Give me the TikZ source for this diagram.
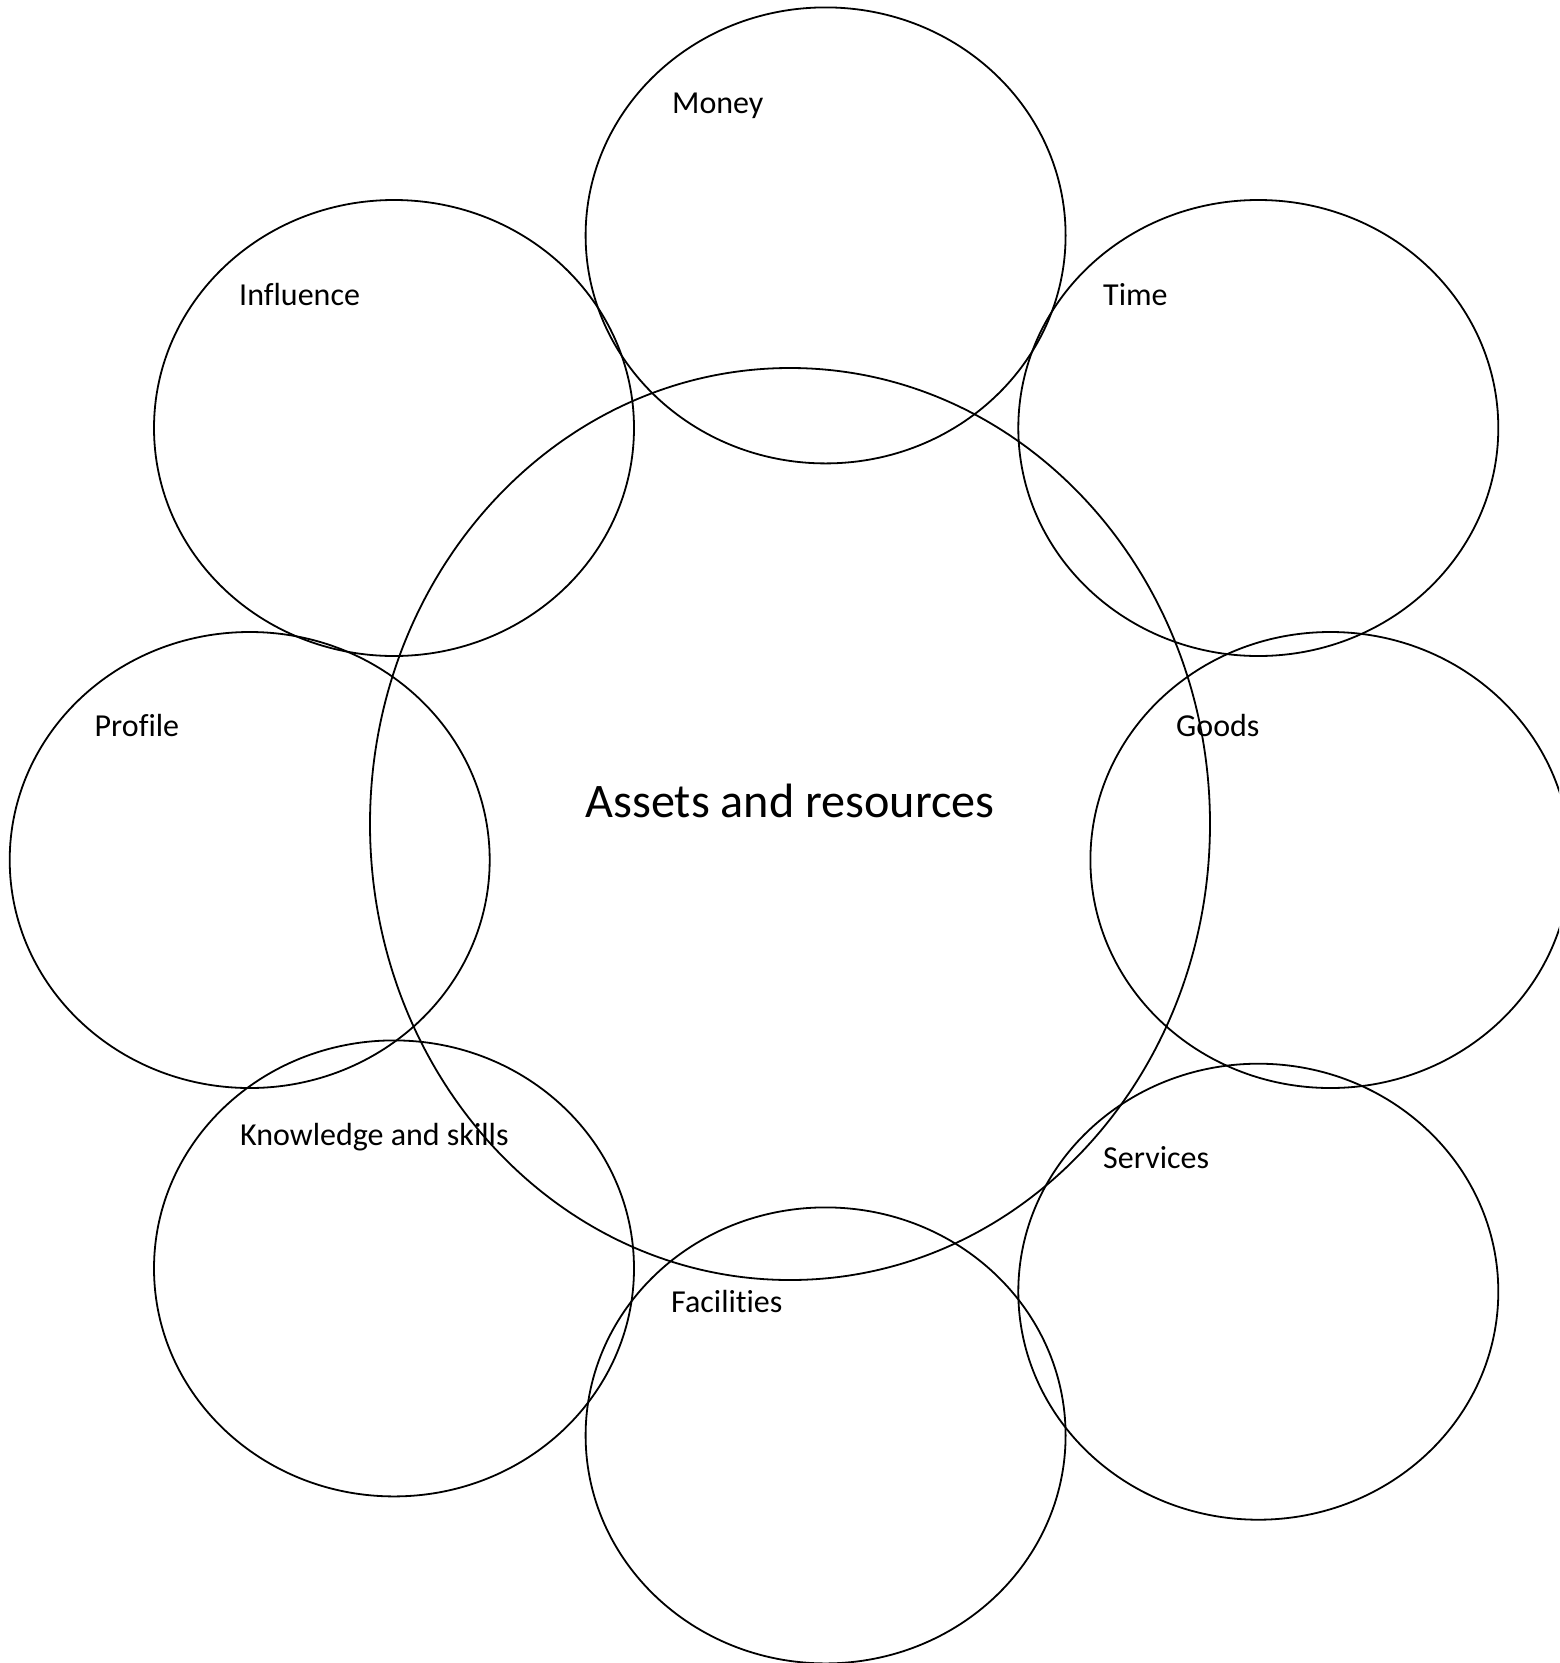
\documentclass[tikz,border=0pt]{standalone}
\usepackage{fontspec}
\setmainfont{Carlito}[Ligatures={NoCommon,NoRare,NoContextual}]
\usetikzlibrary{shapes.geometric}
\tikzset{
  ring/.style={draw=black, line width=1.8pt, ellipse, inner sep=0pt, minimum width=480pt, minimum height=456pt},
  bigring/.style={draw=black, line width=1.8pt, ellipse, inner sep=0pt, minimum width=840pt, minimum height=912pt},
  lbl/.style={anchor=base west, inner sep=0pt, font=\fontsize{32}{38}\selectfont},
  biglbl/.style={anchor=base, inner sep=0pt, font=\fontsize{48.2}{58}\selectfont}
}
\begin{document}
\begin{tikzpicture}[x=1pt, y=-1pt]
\useasboundingbox (0,0) rectangle (1559,1663);
\clip (0,0) rectangle (1559,1663);
\node[bigring] (center) at (790,824) {};
\node[ring] (money) at (825.6,235.4) {};
\node[ring] (influence) at (394,428) {};
\node[ring] (time) at (1258.3,428) {};
\node[ring] (profile) at (249.7,860) {};
\node[ring] (goods) at (1330.4,860) {};
\node[ring] (knowledge) at (394,1268.4) {};
\node[ring] (services) at (1258.3,1291.7) {};
\node[ring] (facilities) at (825.6,1435.4) {};
\node[lbl] (tmoney) at (672,113) {Money};
\node[lbl] (tinfluence) at (239,305) {Influence};
\node[lbl] (ttime) at (1103,305) {Time};
\node[lbl] (tprofile) at (94.5,736) {Profile};
\node[lbl] (tgoods) at (1176,736) {Goods};
\node[lbl] (tknowledge) at (240,1145) {Knowledge and skills};
\node[lbl] (tservices) at (1103,1168) {Services};
\node[lbl] (tfacilities) at (671,1312) {Facilities};
\node[biglbl] (tcenter) at (790,817) {Assets and resources};
\end{tikzpicture}
\end{document}
